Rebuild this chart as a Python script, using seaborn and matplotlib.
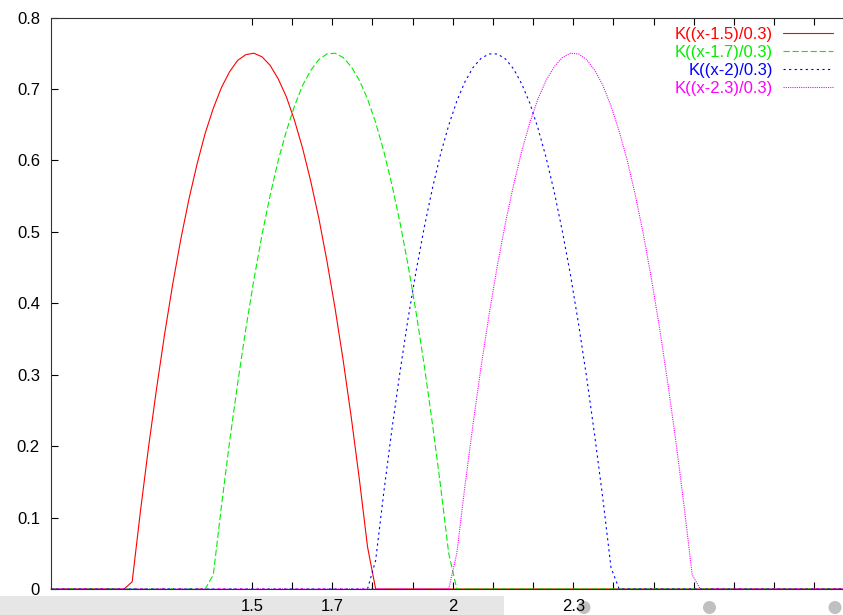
import numpy as np
import pandas as pd
import seaborn as sns
import matplotlib.pyplot as plt
from matplotlib.patches import Rectangle, Circle

# sampling grid of the plotted functions (100 samples on [1, 3])
x = np.linspace(1, 3, 100)

# values
k_15 = ([0] * 10 +
        [0.010, 0.107, 0.197, 0.280, 0.357, 0.427, 0.490, 0.546, 0.595, 0.638,
         0.673, 0.702, 0.724, 0.740, 0.748, 0.750, 0.745, 0.733, 0.714, 0.689,
         0.656, 0.617, 0.571, 0.519, 0.459, 0.393, 0.320, 0.240, 0.153, 0.059] +
        [0] * 60)
k_17 = ([0] * 20 +
        [0.020, 0.116, 0.206, 0.288, 0.364, 0.433, 0.496, 0.551, 0.600, 0.641,
         0.676, 0.705, 0.726, 0.741, 0.749, 0.750, 0.744, 0.731, 0.712, 0.686,
         0.653, 0.613, 0.566, 0.513, 0.453, 0.386, 0.312, 0.231, 0.144, 0.050] +
        [0] * 50)
k_20 = ([0] * 40 +
        [0.040, 0.135, 0.223, 0.304, 0.379, 0.446, 0.507, 0.561, 0.609, 0.649,
         0.683, 0.710, 0.730, 0.743, 0.749, 0.749, 0.742, 0.728, 0.707, 0.680,
         0.645, 0.604, 0.556, 0.501, 0.440, 0.371, 0.296, 0.214, 0.126, 0.030] +
        [0] * 30)
k_23 = ([0] * 50 +
        [0.050, 0.144, 0.231, 0.312, 0.386, 0.453, 0.513, 0.566, 0.613, 0.653,
         0.686, 0.712, 0.731, 0.744, 0.750, 0.749, 0.741, 0.726, 0.705, 0.676,
         0.641, 0.600, 0.551, 0.496, 0.433, 0.364, 0.288, 0.206, 0.116, 0.020] +
        [0] * 20)

labels = ['K((x-1.5)/0.3)', 'K((x-1.7)/0.3)', 'K((x-2)/0.3)', 'K((x-2.3)/0.3)']
colors = ['#ff0000', '#00ee00', '#0000ff', '#ff00ff']
styles = ['-', (0, (4.5, 2.0)), (0, (1.6, 2.4)), (0, (0.8, 0.8))]

xtick_pos = [1.5, 1.6, 1.7, 1.8, 1.9, 2.0, 2.1, 2.2, 2.3, 2.4, 2.5, 2.6, 2.7, 2.8, 2.9, 3.0]
xtick_lab = ['1.5', '', '1.7', '', '', '2', '', '', '2.3', '', '', '', '', '', '', '']
ytick_pos = [0, 0.1, 0.2, 0.3, 0.4, 0.5, 0.6, 0.7, 0.8]
ytick_lab = ['0', '0.1', '0.2', '0.3', '0.4', '0.5', '0.6', '0.7', '0.8']

sns.set_style('white')
plt.rcParams['font.family'] = ['Liberation Sans', 'DejaVu Sans']
plt.rcParams['lines.scale_dashes'] = False

W, H = 843, 615
fig = plt.figure(figsize=(W / 100, H / 100), dpi=100)
# the plot frame runs past the right edge of the picture
ax = fig.add_axes([51 / W, 26 / H, 803.5 / W, 571.5 / H])

df = pd.DataFrame({'x': np.tile(x, 4),
                   'y': k_15 + k_17 + k_20 + k_23,
                   'f': np.repeat(labels, len(x))})
for lab, col, ls in zip(labels, colors, styles):
    sub = df[df['f'] == lab]
    sns.lineplot(data=sub, x='x', y='y', ax=ax, color=col, linestyle=ls,
                 linewidth=0.8, label=lab, clip_on=False)

ax.set_xlim(1, 3)
ax.set_ylim(0, 0.8)
ax.set_xlabel('')
ax.set_ylabel('')
ax.set_xticks(xtick_pos)
ax.set_xticklabels(xtick_lab)
ax.set_yticks(ytick_pos)
ax.set_yticklabels(ytick_lab)
ax.tick_params(axis='both', direction='in', length=5, width=0.8, color='black',
               labelsize=12, labelcolor='black')
ax.tick_params(axis='x', top=True, bottom=True, pad=7)
ax.tick_params(axis='y', left=True, right=True, pad=8)
for side in ['left', 'top', 'bottom', 'right']:
    ax.spines[side].set_visible(True)
    ax.spines[side].set_color('#333333')
    ax.spines[side].set_linewidth(0.8)

ax.legend(loc='upper right', bbox_to_anchor=(833 / W, 1 - 27 / H),
          bbox_transform=fig.transFigure, frameon=False, markerfirst=False,
          labelcolor='linecolor', fontsize=12, handlelength=3.0,
          handletextpad=0.6, labelspacing=0.18, borderpad=0, borderaxespad=0)

# page overlay at the bottom of the screenshot
fig.patches.append(Rectangle((0, 0), 504 / W, 19 / H, transform=fig.transFigure,
                             facecolor='#e6e6e6', edgecolor='none', zorder=-1))
for cx in [584, 709.5, 835]:
    fig.patches.append(Circle((cx, H - 607.5), 6.5, transform=None,
                              facecolor='#c0c0c0', edgecolor='none', zorder=-1))

fig.savefig('out.png', dpi=100)
